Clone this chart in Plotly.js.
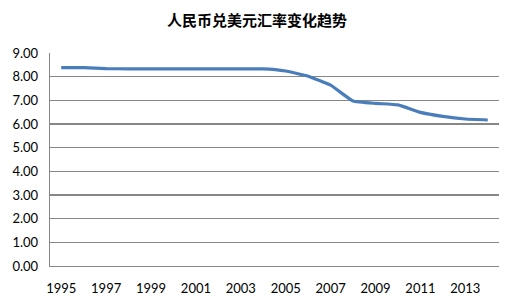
<!DOCTYPE html>
<html>
<head>
<meta charset="utf-8">
<script src="https://cdn.plot.ly/plotly-3.0.1.min.js"></script>
<style>html,body{margin:0;padding:0;background:#fff;}#chart{width:507px;height:303px;}</style>
</head>
<body>
<div id="chart"></div>
<script>
const years = [1995,1996,1997,1998,1999,2000,2001,2002,2003,2004,2005,2006,2007,2008,2009,2010,2011,2012,2013,2014];
const rates = [8.38,8.38,8.34,8.33,8.33,8.33,8.33,8.33,8.33,8.33,8.24,8.02,7.64,6.97,6.87,6.81,6.49,6.32,6.21,6.17];
const xTickVals = [1995,1997,1999,2001,2003,2005,2007,2009,2011,2013];
const yTickVals = [0,1,2,3,4,5,6,7,8,9];
const titleText = '人民币兑美元汇率变化趋势';

const font = {family: 'Lato, "Liberation Sans", sans-serif', size: 13, color: '#000'};
Plotly.newPlot('chart', [{
  x: years, y: rates, type: 'scatter', mode: 'lines',
  line: {color: '#4a7ebb', width: 3.2, shape: 'spline', smoothing: 0.35},
  hoverinfo: 'skip'
}], {
  width: 507, height: 303,
  margin: {l: 50, r: 8, t: 53, b: 37},
  paper_bgcolor: '#fff', plot_bgcolor: '#fff',
  showlegend: false,
  font: font,
  title: {text: titleText, font: {family: '"Noto Sans CJK SC", sans-serif', size: 15, color: '#000', weight: 'bold'}, x: 0.507, xanchor: 'center', y: 0.932, yanchor: 'middle'},
  xaxis: {
    range: [1994.5, 2014.5], tickvals: xTickVals, ticktext: xTickVals.map(String),
    showgrid: false, zeroline: false, showline: true, linecolor: '#878787', linewidth: 1.3,
    ticks: '', ticklabelstandoff: 10, tickfont: font, fixedrange: true
  },
  yaxis: {
    range: [0, 9], tickvals: yTickVals, ticktext: yTickVals.map(v => v.toFixed(2)),
    showgrid: true, gridcolor: '#878787', gridwidth: 1.3, zeroline: false,
    showline: true, linecolor: '#878787', linewidth: 1.3,
    ticks: '', ticklabelstandoff: 8, tickfont: font, fixedrange: true
  }
}, {displayModeBar: false, staticPlot: true});
</script>
</body>
</html>
